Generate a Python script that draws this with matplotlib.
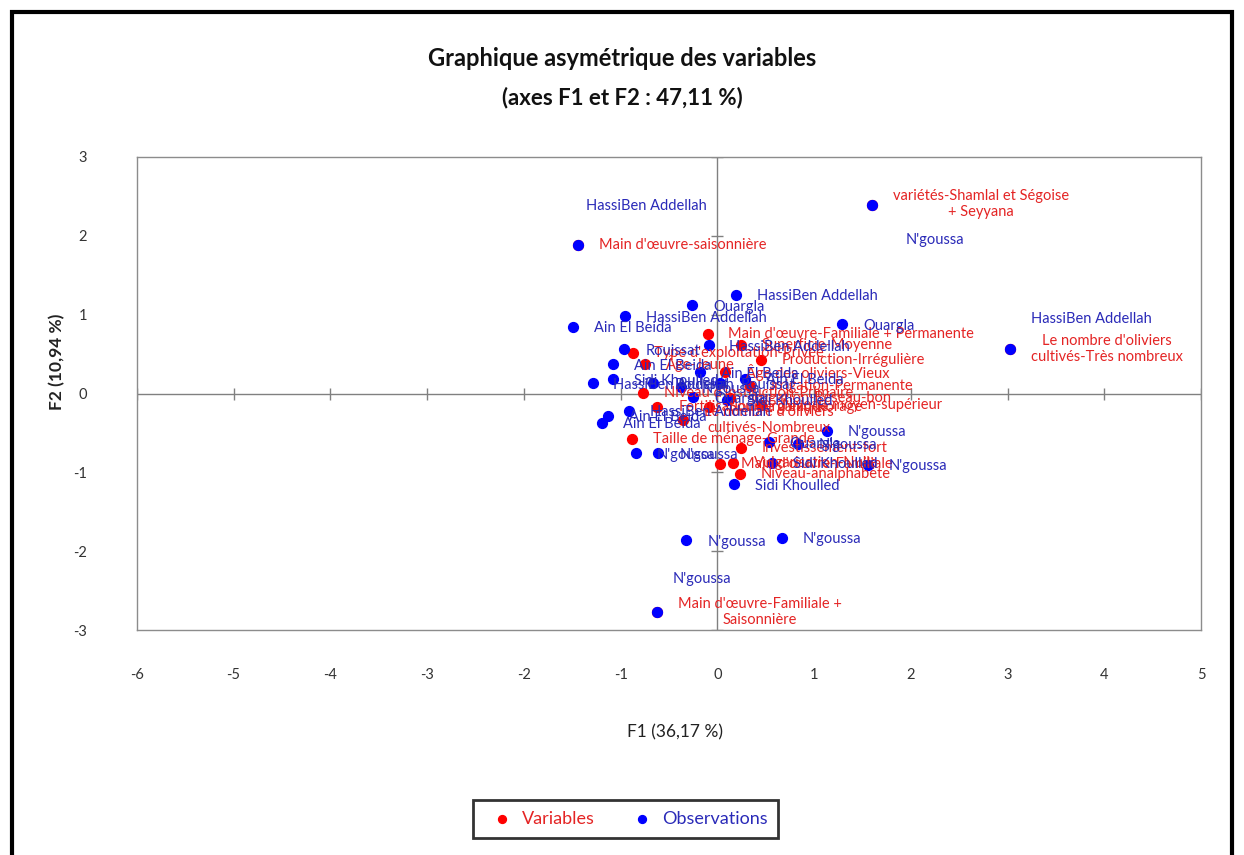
import matplotlib
matplotlib.use("Agg")
import matplotlib.pyplot as plt
from matplotlib.patches import Rectangle

plt.rcParams['font.family'] = ['Lato', 'DejaVu Sans']
plt.rcParams['axes.unicode_minus'] = False

#Observations (blue points)
obs_x = [-1.44, 1.60, 0.19, -0.26, -0.95, -1.49, 1.29, 3.03, -0.96, -1.08,
         -1.08, -1.29, -0.66, -0.38, -0.25, -0.91, -1.13, -1.19, -0.84, -0.61,
         -0.09, 0.53, 0.83, 1.13, 0.57, 1.56, 0.17, -0.32, 0.67, -0.62,
         -0.18, 0.03, 0.29, 0.10]
obs_y = [1.88, 2.39, 1.25, 1.12, 0.98, 0.85, 0.88, 0.56, 0.56, 0.37,
         0.18, 0.13, 0.13, 0.08, -0.05, -0.22, -0.28, -0.37, -0.76, -0.76,
         0.61, -0.62, -0.64, -0.47, -0.88, -0.90, -1.15, -1.86, -1.83, -2.77,
         0.27, 0.13, 0.19, -0.08]
obs_lab = ["HassiBen Addellah", "N'goussa", "HassiBen Addellah", "Ouargla",
           "HassiBen Addellah", "Ain El Beida", "Ouargla", "HassiBen Addellah",
           "Rouissat", "Ain El Beida", "Sidi Khoulled", "HassiBen Addellah",
           "Rouissat", "N'goussa", "Ouargla", "HassiBen Addellah",
           "Ain El Beida", "Ain El Beida", "N'goussa", "N'goussa",
           "HassiBen Addellah", "Ouargla", "N'goussa", "N'goussa",
           "Sidi Khoulled", "N'goussa", "Sidi Khoulled", "N'goussa",
           "N'goussa", "N'goussa", "Ain El Beida", "Rouissat",
           "Ain El Beida", "Sidi Khoulled"]

#Variables (red points)
var_x = [-1.44, 1.60, 3.03, -0.62, -0.10, -0.87, -0.75, -0.77, -0.62, -0.09,
         -0.88, 0.24, 0.03, 0.16, 0.23, 0.24, 0.45, 0.08, 0.34, 0.13,
         0.45, -0.35]
var_y = [1.88, 2.39, 0.56, -2.77, 0.76, 0.52, 0.38, 0.01, -0.17, -0.17,
         -0.57, -0.69, -0.89, -0.88, -1.02, 0.61, 0.42, 0.27, 0.10, -0.06,
         -0.15, -0.34]
var_lab = ["Main d'œuvre-saisonnière",
           "variétés-Shamlal et Ségoise\n+ Seyyana",
           "Le nombre d'oliviers\ncultivés-Très nombreux",
           "Main d'œuvre-Familiale +\nSaisonnière",
           "Main d'œuvre-Familiale + Permanente",
           "Type d'exploitation-Privée", "Âge-Jeune",
           "Niveau d'instruction-Primaire", "Fertilisation-Organique",
           "Source d'eau-Forage", "Taille de ménage-Grande",
           "Investissement-fort", "Main d'œuvre-Familiale",
           "Vulgarisation-Nulle", "Niveau-analphabète", "Superficie-Moyenne",
           "Production-Irrégulière", "Âge des oliviers-Vieux",
           "Irrigation-Permanente", "Irrigation-Réseau-bon",
           "Niveau-moyen-supérieur",
           "Le nombre d'oliviers\ncultivés-Nombreux"]

#label offsets (points) where the label is not simply to the right
obs_off = {0: (6, 28), 1: (24, -25), 7: (15, 22), 29: (11, 24)}
var_off = {1: (15, 1)}

red_dot, red_txt = '#FF0000', '#E42424'
blue_dot, blue_txt = '#0000FF', '#2A2AB8'

fig = plt.figure(figsize=(12.44, 8.55), dpi=100)
ax = fig.add_axes([0.110, 0.263, 0.8555, 0.5534])
ax.set_xlim(-6, 5)
ax.set_ylim(-3, 3)

#center axis lines with cross ticks
ax.axhline(0, color='#808080', lw=1, zorder=1)
ax.axvline(0, color='#808080', lw=1, zorder=1)
xt = list(range(-6, 6))
yt = list(range(-3, 4))
ax.plot(xt, [0]*len(xt), ls='none', marker='|', ms=9, mew=1, color='#808080', zorder=1)
ax.plot([0]*len(yt), yt, ls='none', marker='_', ms=9, mew=1, color='#808080', zorder=1)

ax.scatter(var_x, var_y, s=50, color=red_dot, zorder=3, label='Variables')
ax.scatter(obs_x, obs_y, s=50, color=blue_dot, zorder=4, label='Observations')

for i, (x, y, t) in enumerate(zip(var_x, var_y, var_lab)):
    dx, dy = var_off.get(i, (15, 0))
    ax.annotate(t, (x, y), xytext=(dx, dy), textcoords='offset points',
                ha='left', va='center', multialignment='center',
                fontsize=10.5, color=red_txt, zorder=5)
for i, (x, y, t) in enumerate(zip(obs_x, obs_y, obs_lab)):
    dx, dy = obs_off.get(i, (15, -1))
    ax.annotate(t, (x, y), xytext=(dx, dy), textcoords='offset points',
                ha='left', va='center', fontsize=10.5, color=blue_txt, zorder=5)

ax.set_xticks(xt)
ax.set_yticks(yt)
ax.tick_params(length=0, labelsize=10.5, labelcolor='#333333')
ax.tick_params(axis='x', pad=27)
ax.tick_params(axis='y', pad=36)
for s in ax.spines.values():
    s.set_color('#8c8c8c')
    s.set_linewidth(1)

fig.text(0.5005, 1 - 58/855, "Graphique asymétrique des variables",
         ha='center', va='center', fontsize=17, fontweight='bold', color='#111111')
fig.text(0.5005, 1 - 98/855, "(axes F1 et F2 : 47,11 %)",
         ha='center', va='center', fontsize=16, fontweight='bold', color='#111111')
fig.text(675/1244, 1 - 732/855, "F1 (36,17 %)", ha='center', va='center',
         fontsize=12.5, color='#222222')
fig.text(57/1244, 1 - 362/855, "F2 (10,94 %)", ha='center', va='center',
         fontsize=12.5, fontweight='bold', rotation=90, color='#222222')

leg = fig.legend(loc='center', bbox_to_anchor=(0.503, 1 - 819/855),
                 ncol=2, frameon=True, fancybox=False, fontsize=13,
                 handletextpad=0.1, columnspacing=1.6, markerscale=0.8,
                 borderpad=0.6)
leg.get_frame().set_edgecolor('black')
leg.get_frame().set_linewidth(2)
for txt, c in zip(leg.get_texts(), [red_txt, blue_txt]):
    txt.set_color(c)

#outer chart border
fig.patches.append(Rectangle((12/1244, -0.05), 1220/1244, 1.05 - 12/855,
                             transform=fig.transFigure, fill=False,
                             edgecolor='black', lw=3))

fig.savefig("out.png", dpi=100)
